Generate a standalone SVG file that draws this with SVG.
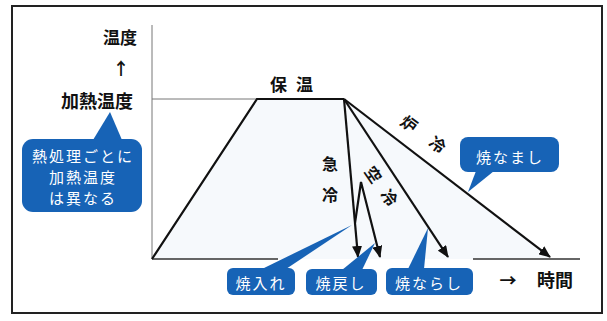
<svg xmlns="http://www.w3.org/2000/svg" width="607" height="321" viewBox="0 0 607 321">
<defs>
<style>
.lbl{font-family:"Noto Sans CJK JP","Noto Sans",sans-serif;font-weight:bold;fill:#111;}
.cw{font-family:"Noto Sans CJK JP","Noto Sans",sans-serif;font-size:15px;fill:#fff;letter-spacing:2px;text-anchor:middle;}
.blue{fill:#1763b6;}
.ln{stroke:#111;stroke-width:2.2;fill:none;}
.ax{stroke:#777;stroke-width:1;fill:none;}
</style>
<marker id="ah" markerWidth="12" markerHeight="10" refX="11" refY="5" orient="auto" markerUnits="userSpaceOnUse">
<path d="M0,0 L12,5 L0,10 z" fill="#111"/>
</marker>
</defs>
<rect x="0" y="0" width="607" height="321" fill="#fff"/>
<rect x="12" y="6" width="590" height="307" fill="none" stroke="#222" stroke-width="2"/>
<polygon points="152,259 257,99 344,99 550,259" fill="#f6f9fc"/>
<g id="axes">
<line class="ax" x1="152" y1="25" x2="152" y2="259"/>
<line class="ax" x1="152" y1="99" x2="258" y2="99"/>
<line x1="152" y1="259" x2="278" y2="259" stroke="#333" stroke-width="1.5"/>
<line x1="473" y1="259" x2="580" y2="259" stroke="#333" stroke-width="1.5"/>
</g>
<g id="connectors">
<polyline class="ln" points="152,259 257,99 344,99"/>
<line class="ln" x1="344" y1="99" x2="358" y2="257" marker-end="url(#ah)"/>
<polyline class="ln" points="355,223 361,182 380,257" marker-end="url(#ah)"/>
<line class="ln" x1="344" y1="99" x2="448" y2="257" marker-end="url(#ah)"/>
<line class="ln" x1="344" y1="99" x2="550" y2="257" marker-end="url(#ah)"/>
</g>
<g id="axis-labels">
<text class="lbl" x="137" y="44" font-size="17" text-anchor="end">温度</text>
<text class="lbl" x="121" y="75" font-size="17" text-anchor="middle" font-weight="normal">↑</text>
<text class="lbl" x="133" y="108" font-size="18" text-anchor="end">加熱温度</text>
<text class="lbl" x="296" y="91" font-size="17" text-anchor="middle" letter-spacing="9">保温</text>
<text class="lbl" x="508" y="287" font-size="17" text-anchor="middle" font-weight="normal">→</text>
<text class="lbl" x="555" y="287" font-size="18" text-anchor="middle">時間</text>
</g>
<g id="cool-labels">
<text class="lbl" x="330" y="170" font-size="16" text-anchor="middle">急</text>
<text class="lbl" x="330" y="201" font-size="16" text-anchor="middle">冷</text>
<text class="lbl" font-size="16" text-anchor="middle" dominant-baseline="central" letter-spacing="12" transform="translate(385.5,190.5) rotate(55)">空冷</text>
<text class="lbl" font-size="16" text-anchor="middle" dominant-baseline="central" letter-spacing="19" transform="translate(431.5,139) rotate(36)">炉冷</text>
</g>
<g id="callout-heat">
<rect class="blue" x="22" y="139" width="120" height="73" rx="11"/>
<polygon class="blue" points="93,140 122,140 110,112"/>
<text class="cw" x="83" y="162">熱処理ごとに</text>
<text class="cw" x="83" y="183">加熱温度</text>
<text class="cw" x="83" y="204">は異なる</text>
</g>
<g id="callout-annealing">
<rect class="blue" x="460" y="137" width="99" height="35" rx="8"/>
<polygon class="blue" points="476,171 494,171 468,192"/>
<text class="cw" x="510" y="163">焼なまし</text>
</g>
<g id="callout-quench">
<rect class="blue" x="227" y="268" width="68" height="27" rx="6"/>
<polygon class="blue" points="262,269 286,269 352,225"/>
<text class="cw" x="261" y="289">焼入れ</text>
</g>
<g id="callout-temper">
<rect class="blue" x="306" y="269" width="71" height="26" rx="6"/>
<polygon class="blue" points="342,270 362,270 375,243"/>
<text class="cw" x="341" y="289">焼戻し</text>
</g>
<g id="callout-normalize">
<rect class="blue" x="386" y="268" width="87" height="27" rx="6"/>
<polygon class="blue" points="408,269 424,269 428,228"/>
<text class="cw" x="429" y="289">焼ならし</text>
</g>
</svg>
